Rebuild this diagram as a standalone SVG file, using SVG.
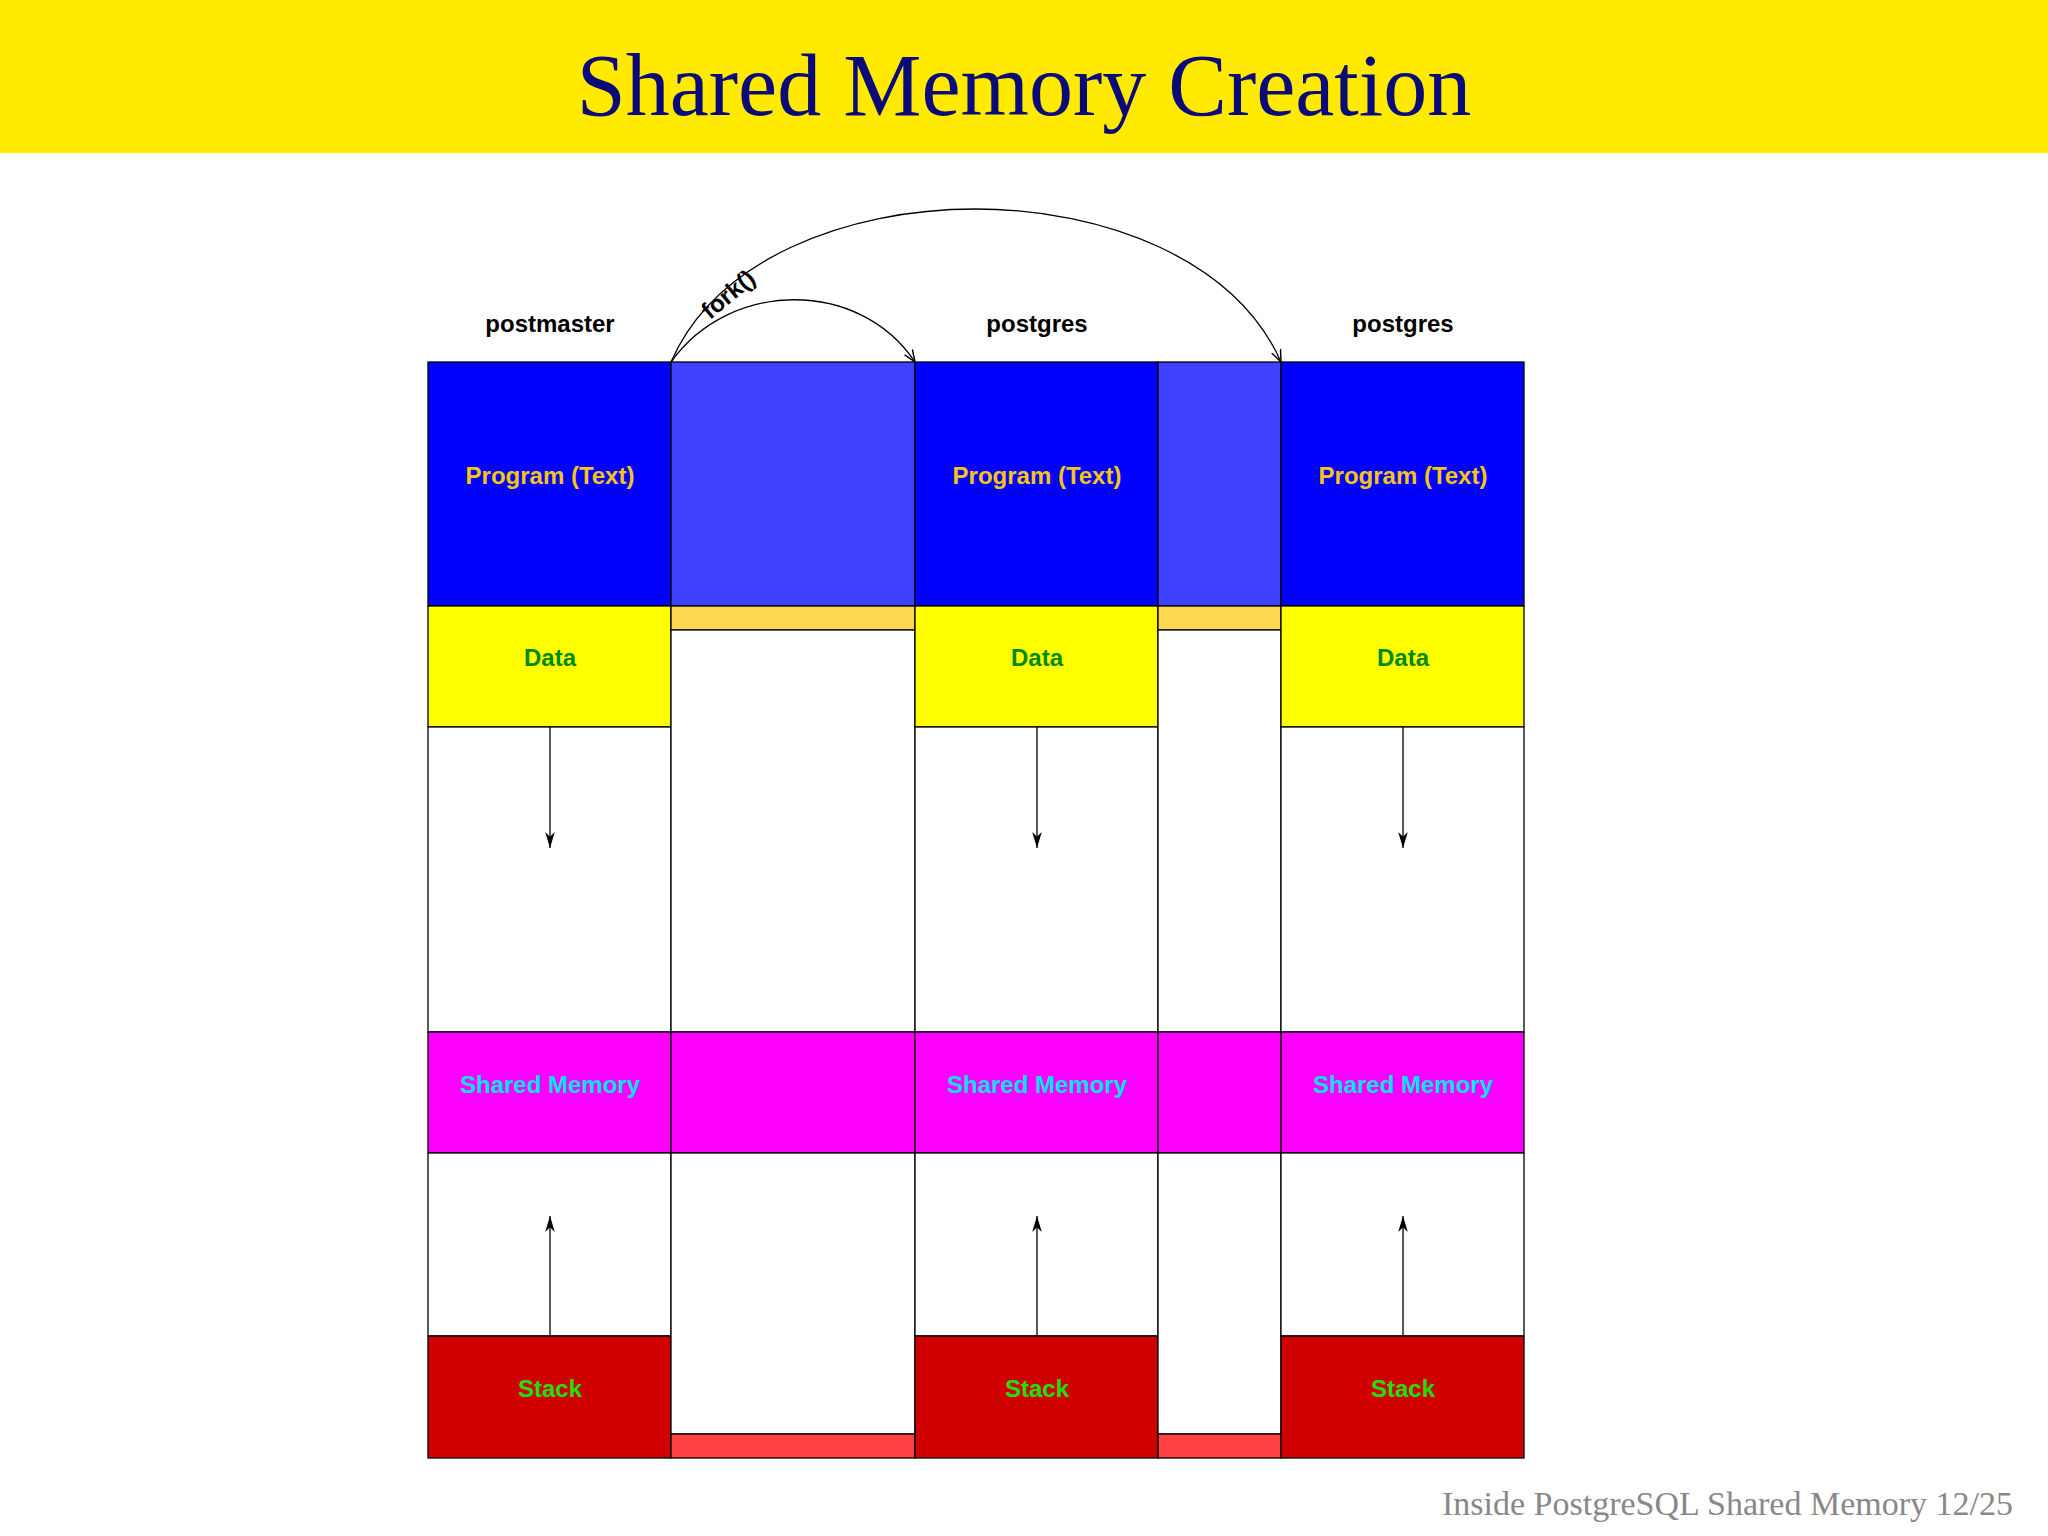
<svg xmlns="http://www.w3.org/2000/svg" width="2048" height="1536" viewBox="0 0 2048 1536">
<style>
.b{stroke:#000;stroke-width:1.3}
.t{font-family:"Liberation Sans",Arial,sans-serif;font-weight:bold;font-size:24px;text-anchor:middle;dominant-baseline:central}
.ln{stroke:#000;stroke-width:1.3;fill:none}
</style>
<defs>
<marker id="ah" viewBox="0 0 10 10" refX="10" refY="5" markerWidth="12" markerHeight="12" markerUnits="userSpaceOnUse" orient="auto"><path d="M0,1 L10,5 L0,9" fill="none" stroke="#000" stroke-width="1.2"/></marker>
<marker id="ah2" viewBox="0 0 10 10" refX="10" refY="5" markerWidth="16" markerHeight="16" markerUnits="userSpaceOnUse" orient="auto"><path d="M0,2 L10,5 L0,8 L3,5 Z" fill="#000"/></marker>
</defs>
<rect width="2048" height="1536" fill="#fff"/>
<rect width="2048" height="153" fill="#ffea00"/>
<text x="1024" y="115" font-family="Liberation Serif,serif" font-size="88" fill="#0a0a78" text-anchor="middle">Shared Memory Creation</text>

<g id="labels">
<text class="t" x="550" y="323" fill="#000">postmaster</text>
<text class="t" x="1037" y="323" fill="#000">postgres</text>
<text class="t" x="1403" y="323" fill="#000">postgres</text>
</g>

<g id="col1">
<rect class="b" x="428" y="362" width="243" height="244" fill="#0000ff"/>
<rect class="b" x="428" y="606" width="243" height="121" fill="#ffff00"/>
<rect class="b" x="428" y="727" width="243" height="305" fill="#fff"/>
<rect class="b" x="428" y="1032" width="243" height="121" fill="#ff00ff"/>
<rect class="b" x="428" y="1153" width="243" height="183" fill="#fff"/>
<rect class="b" x="428" y="1336" width="243" height="122" fill="#d00000"/>
<text class="t" x="550" y="475" fill="#f5c518">Program (Text)</text>
<text class="t" x="550" y="657" fill="#008a00">Data</text>
<text class="t" x="550" y="1084" fill="#00e5ff">Shared Memory</text>
<text class="t" x="550" y="1388" fill="#22e000">Stack</text>
</g>

<g id="gap1">
<rect class="b" x="671" y="362" width="244" height="244" fill="#4040ff"/>
<rect class="b" x="671" y="606" width="244" height="24" fill="#ffd750"/>
<rect class="b" x="671" y="630" width="244" height="402" fill="#fff"/>
<rect class="b" x="671" y="1032" width="244" height="121" fill="#ff00ff"/>
<rect class="b" x="671" y="1153" width="244" height="281" fill="#fff"/>
<rect class="b" x="671" y="1434" width="244" height="24" fill="#ff4040"/>
</g>

<g id="col2">
<rect class="b" x="915" y="362" width="243" height="244" fill="#0000ff"/>
<rect class="b" x="915" y="606" width="243" height="121" fill="#ffff00"/>
<rect class="b" x="915" y="727" width="243" height="305" fill="#fff"/>
<rect class="b" x="915" y="1032" width="243" height="121" fill="#ff00ff"/>
<rect class="b" x="915" y="1153" width="243" height="183" fill="#fff"/>
<rect class="b" x="915" y="1336" width="243" height="122" fill="#d00000"/>
<text class="t" x="1037" y="475" fill="#f5c518">Program (Text)</text>
<text class="t" x="1037" y="657" fill="#008a00">Data</text>
<text class="t" x="1037" y="1084" fill="#00e5ff">Shared Memory</text>
<text class="t" x="1037" y="1388" fill="#22e000">Stack</text>
</g>

<g id="gap2">
<rect class="b" x="1158" y="362" width="123" height="244" fill="#4040ff"/>
<rect class="b" x="1158" y="606" width="123" height="24" fill="#ffd750"/>
<rect class="b" x="1158" y="630" width="123" height="402" fill="#fff"/>
<rect class="b" x="1158" y="1032" width="123" height="121" fill="#ff00ff"/>
<rect class="b" x="1158" y="1153" width="123" height="281" fill="#fff"/>
<rect class="b" x="1158" y="1434" width="123" height="24" fill="#ff4040"/>
</g>

<g id="col3">
<rect class="b" x="1281" y="362" width="243" height="244" fill="#0000ff"/>
<rect class="b" x="1281" y="606" width="243" height="121" fill="#ffff00"/>
<rect class="b" x="1281" y="727" width="243" height="305" fill="#fff"/>
<rect class="b" x="1281" y="1032" width="243" height="121" fill="#ff00ff"/>
<rect class="b" x="1281" y="1153" width="243" height="183" fill="#fff"/>
<rect class="b" x="1281" y="1336" width="243" height="122" fill="#d00000"/>
<text class="t" x="1403" y="475" fill="#f5c518">Program (Text)</text>
<text class="t" x="1403" y="657" fill="#008a00">Data</text>
<text class="t" x="1403" y="1084" fill="#00e5ff">Shared Memory</text>
<text class="t" x="1403" y="1388" fill="#22e000">Stack</text>
</g>

<g id="connectors">
<line class="ln" x1="550" y1="727" x2="550" y2="848" marker-end="url(#ah2)"/>
<line class="ln" x1="1037" y1="727" x2="1037" y2="848" marker-end="url(#ah2)"/>
<line class="ln" x1="1403" y1="727" x2="1403" y2="848" marker-end="url(#ah2)"/>
<line class="ln" x1="550" y1="1336" x2="550" y2="1216" marker-end="url(#ah2)"/>
<line class="ln" x1="1037" y1="1336" x2="1037" y2="1216" marker-end="url(#ah2)"/>
<line class="ln" x1="1403" y1="1336" x2="1403" y2="1216" marker-end="url(#ah2)"/>
<path class="ln" d="M671,362 C730,279 860,279 915,362" marker-end="url(#ah)"/>
<path class="ln" d="M671,362 C760,158 1190,158 1281,362" marker-end="url(#ah)"/>
<text class="t" x="728" y="294" fill="#000" transform="rotate(-40 728 294)">fork()</text>
</g>

<text x="2013" y="1515" font-family="Liberation Serif,serif" font-size="34" fill="#888" text-anchor="end">Inside PostgreSQL Shared Memory  12/25</text>
</svg>
